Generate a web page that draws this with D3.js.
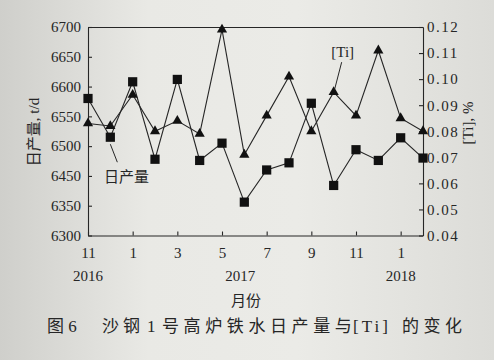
<!DOCTYPE html>
<html><head><meta charset="utf-8">
<script src="https://cdn.jsdelivr.net/npm/d3@7"></script>
<style>
html,body{margin:0;padding:0;background:#e6e6e2;}
svg{display:block;}
text{fill:#262626;}
</style></head>
<body>
<svg id="c" width="494" height="360"></svg>
<script>
// ---- data ----
const monthKeys = ["2016-11","2016-12","2017-01","2017-02","2017-03","2017-04","2017-05","2017-06",
                   "2017-07","2017-08","2017-09","2017-10","2017-11","2017-12","2018-01","2018-02"];
const production = [6580, 6515, 6608, 6478, 6612, 6476, 6505, 6362, 6460, 6472, 6572, 6418, 6494, 6476, 6514, 6480];
const tiValues = [0.083, 0.082, 0.094, 0.080, 0.084, 0.079, 0.119, 0.071, 0.086, 0.101, 0.080, 0.095, 0.086, 0.111, 0.085, 0.080];
const xTickKeys = ["2016-11","2017-01","2017-03","2017-05","2017-07","2017-09","2017-11","2018-01"];
const yearLabels = [["2016-11","2016"],["2017-06","2017"],["2018-01","2018"]];
const leftTicks = [6300, 6350, 6450, 6500, 6550, 6600, 6650, 6700];
const rightTicks = [0.04, 0.05, 0.06, 0.07, 0.08, 0.09, 0.10, 0.11, 0.12];

const svg = d3.select("#c");
const L = 88, R = 423, T = 27, B = 235.5;
const serif = "'Liberation Serif','Noto Sans CJK SC',serif";
const ink = "#262626";

// paper background
const defs = svg.append("defs");
const g0 = defs.append("linearGradient").attr("id","paper").attr("x1","0").attr("x2","1");
[["0%","#cfcfcb"],["30%","#e9e9e5"],["60%","#ebebe7"],["100%","#dcdcd8"]].forEach(s=>g0.append("stop").attr("offset",s[0]).attr("stop-color",s[1]));
svg.append("rect").attr("width",494).attr("height",360).attr("fill","url(#paper)");

// scales
const x = d3.scalePoint().domain(monthKeys).range([L, R]);
const u = (B - T) / 7;
const yL = d3.scaleLinear().domain([6300, 6350, 6450, 6700]).range([B, B - u, B - 2*u, T]);
const yR = d3.scaleLinear().domain([0.04, 0.12]).range([B, T]);

// axes
const axL = svg.append("g").attr("transform",`translate(${L},0)`)
  .call(d3.axisLeft(yL).tickValues(leftTicks).tickSizeInner(-4).tickSizeOuter(0).tickPadding(7).tickFormat(d3.format("d")));
const axR = svg.append("g").attr("transform",`translate(${R},0)`)
  .call(d3.axisRight(yR).tickValues(rightTicks).tickSizeInner(-4).tickSizeOuter(0).tickPadding(4).tickFormat(d3.format(".2f")));
const axB = svg.append("g").attr("transform",`translate(0,${B})`)
  .call(d3.axisBottom(x).tickValues(xTickKeys).tickSizeInner(-4).tickSizeOuter(0).tickPadding(12)
        .tickFormat(k => String(+k.split("-")[1])));
const axT = svg.append("g").attr("transform",`translate(0,${T})`)
  .call(d3.axisTop(x).tickValues([]).tickSizeOuter(0));
[axL, axR, axB, axT].forEach(a => {
  a.selectAll("path,line").attr("stroke", ink).attr("stroke-width", 1.1);
  a.selectAll("text").attr("font-family", serif).attr("font-size", 15).attr("fill", ink);
});
axR.selectAll("text").attr("letter-spacing", 1.5);

// year labels
svg.append("g").selectAll("text").data(yearLabels).join("text")
  .attr("x", d => x(d[0]) - (d[1] === "2017" ? 4 : 0)).attr("y", 281).attr("text-anchor","middle")
  .attr("font-family", serif).attr("font-size", 15).text(d => d[1]);

// axis titles
svg.append("text").attr("x", 246).attr("y", 306).attr("text-anchor","middle")
  .attr("font-family", serif).attr("font-size", 15).text("月份");
svg.append("text").attr("transform","translate(39,132) rotate(-90)").attr("text-anchor","middle")
  .attr("font-family", serif).attr("font-size", 15).text("日产量, t/d");
svg.append("text").attr("transform","translate(473,123) rotate(-90)").attr("text-anchor","middle")
  .attr("font-family", serif).attr("font-size", 15).text("[Ti], %");

// lines
const lineL = d3.line().x((d,i) => x(monthKeys[i])).y(d => yL(d));
const lineR = d3.line().x((d,i) => x(monthKeys[i])).y(d => yR(d));
svg.append("path").datum(production).attr("d", lineL).attr("fill","none").attr("stroke", ink).attr("stroke-width", 1.1);
svg.append("path").datum(tiValues).attr("d", lineR).attr("fill","none").attr("stroke", ink).attr("stroke-width", 1.1);

// markers
svg.append("g").selectAll("path").data(production).join("path")
  .attr("transform", (d,i) => `translate(${x(monthKeys[i])},${yL(d)})`)
  .attr("d", d3.symbol(d3.symbolSquare, 85)).attr("fill", "#111");
svg.append("g").selectAll("path").data(tiValues).join("path")
  .attr("transform", (d,i) => `translate(${x(monthKeys[i])},${yR(d)})`)
  .attr("d", d3.symbol(d3.symbolTriangle, 45)).attr("fill", "#111");

// annotations
const tx = x(monthKeys[11]), ty = yR(tiValues[11]);
svg.append("line").attr("x1", tx + 1).attr("y1", ty - 3).attr("x2", tx + 8).attr("y2", ty - 30)
  .attr("stroke", ink).attr("stroke-width", 1);
svg.append("text").attr("x", tx + 9).attr("y", ty - 35).attr("text-anchor","middle")
  .attr("font-family", serif).attr("font-size", 15).text("[Ti]");
const px = x(monthKeys[1]), py = yL(production[1]);
svg.append("line").attr("x1", px).attr("y1", py + 7).attr("x2", px + 7).attr("y2", py + 25)
  .attr("stroke", ink).attr("stroke-width", 1);
svg.append("text").attr("x", 104).attr("y", py + 45)
  .attr("font-family", serif).attr("font-size", 15).text("日产量");

// caption
const cap = svg.append("text").attr("y", 332).attr("font-family", serif).attr("font-size", 17);
[[47,"图 6",0],[102,"沙钢",4],[147,"1",0],[162,"号高炉铁水日产量与",4.6],[353,"[Ti]",3],[402,"的变化",4.5]]
  .forEach(s => cap.append("tspan").attr("x", s[0]).attr("letter-spacing", s[2]).text(s[1]));
</script>
</body></html>
